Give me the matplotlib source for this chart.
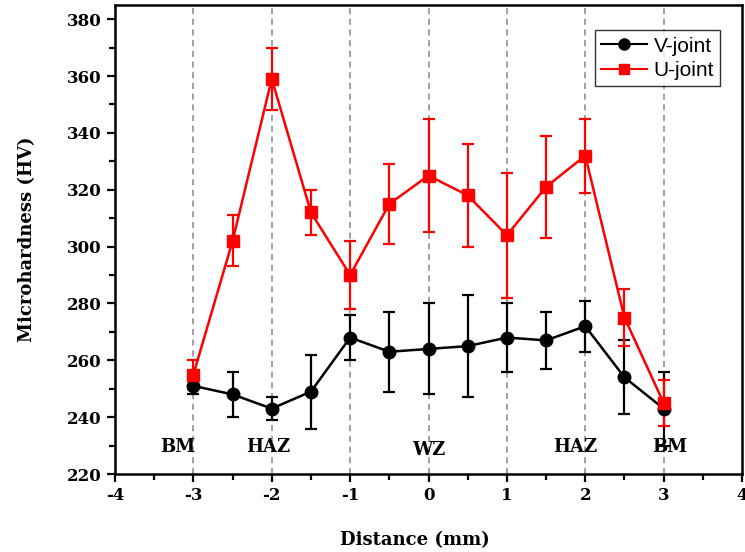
import matplotlib
matplotlib.use("Agg")
import matplotlib.pyplot as plt
from matplotlib.ticker import MultipleLocator
from matplotlib.lines import Line2D

# data
distance = [-3, -2.5, -2, -1.5, -1, -0.5, 0, 0.5, 1, 1.5, 2, 2.5, 3]
v_joint = [251, 248, 243, 249, 268, 263, 264, 265, 268, 267, 272, 254, 243]
v_err = [3, 8, 4, 13, 8, 14, 16, 18, 12, 10, 9, 13, 13]
u_joint = [255, 302, 359, 312, 290, 315, 325, 318, 304, 321, 332, 275, 245]
u_err = [5, 9, 11, 8, 12, 14, 20, 18, 22, 18, 13, 10, 8]

zone_lines = [-3, -2, -1, 0, 1, 2, 3]
zone_labels = ["BM", "HAZ", "WZ", "HAZ", "BM"]
zone_x = [-3.2, -2.05, 0.0, 1.87, 3.08]
zone_y = [229.5, 229.5, 228.5, 229.5, 229.5]

serif = ["DejaVu Serif"]
plt.rcParams["axes.unicode_minus"] = False

fig = plt.figure(figsize=(7.45, 5.52), dpi=100)
ax = fig.add_axes([0.1544, 0.1413, 0.8416, 0.8497])

for x in zone_lines:
    ax.axvline(x, color="#888888", linestyle=(0, (4, 3)), linewidth=1.1, zorder=0)

ax.errorbar(distance, v_joint, yerr=v_err, color="black", marker="o", markersize=9,
            linewidth=1.8, elinewidth=1.6, capsize=4, capthick=1.6)
ax.errorbar(distance, u_joint, yerr=u_err, color="#ff0000", marker="s", markersize=8,
            linewidth=1.8, elinewidth=1.6, capsize=4, capthick=1.6)

for lab, x, y in zip(zone_labels, zone_x, zone_y):
    ax.text(x, y, lab, ha="center", va="center", fontsize=13, fontweight="bold", family=serif)

ax.set_xlim(-4, 4)
ax.set_ylim(220, 385)
ax.xaxis.set_major_locator(MultipleLocator(1))
ax.xaxis.set_minor_locator(MultipleLocator(0.5))
ax.yaxis.set_major_locator(MultipleLocator(20))
ax.yaxis.set_minor_locator(MultipleLocator(10))
ax.tick_params(which="both", direction="out", width=1.6, labelsize=12)
ax.tick_params(which="major", length=6)
ax.tick_params(which="minor", length=4)
for lbl in ax.get_xticklabels() + ax.get_yticklabels():
    lbl.set_family(serif)
    lbl.set_fontweight("bold")
for s in ax.spines.values():
    s.set_linewidth(1.8)

ax.set_xlabel("Distance (mm)", fontsize=13, fontweight="bold", family=serif)
ax.xaxis.set_label_coords(0.478, -0.122)
ax.set_ylabel("Microhardness (HV)", fontsize=13, fontweight="bold", family=serif, labelpad=22)

handles = [
    Line2D([], [], color="black", marker="o", markersize=8, linewidth=1.5),
    Line2D([], [], color="#ff0000", marker="s", markersize=7, linewidth=1.5),
]
leg = ax.legend(handles, ["V-joint", "U-joint"], loc="upper right",
                bbox_to_anchor=(0.982, 0.968), fancybox=False, edgecolor="black",
                prop={"family": "Liberation Sans", "size": 15},
                handlelength=2.2, borderpad=0.3, labelspacing=0.25, handletextpad=0.3)
leg.get_frame().set_linewidth(1.0)

fig.savefig("out.png", dpi=100)
